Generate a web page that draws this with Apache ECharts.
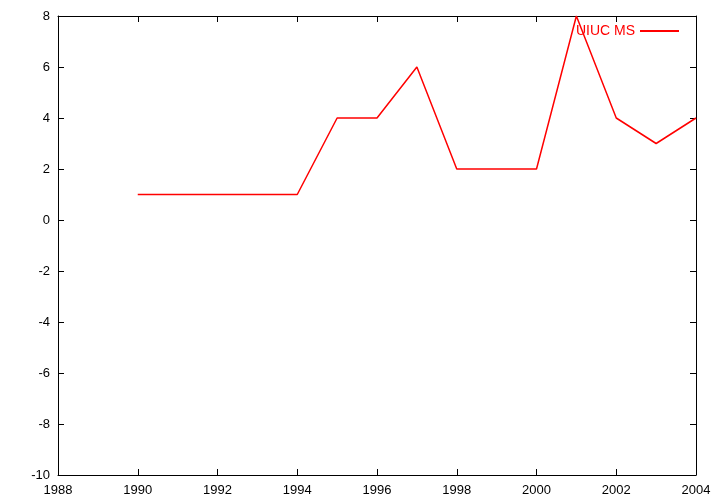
<!DOCTYPE html>
<html><head><meta charset="utf-8">
<script src="https://cdn.jsdelivr.net/npm/echarts@6/dist/echarts.min.js"></script>
<style>html,body{margin:0;padding:0;background:#fff}#c{width:720px;height:504px}</style>
</head><body><div id="c"></div>
<script>
const years = [1990,1991,1992,1993,1994,1995,1996,1997,1998,1999,2000,2001,2002,2003,2004];
const values = [1,1,1,1,1,4,4,6,2,2,2,8,4,3,4];
const seriesName = 'UIUC MS';
const xRange = [1988, 2004];
const yRange = [-10, 8];

const chart = echarts.init(document.getElementById('c'), null, {renderer:'canvas'});
const font = {fontFamily:'Liberation Sans, Arial, sans-serif', fontSize:13, color:'#000'};
const axisLine = {show:true, onZero:false, lineStyle:{color:'#000', width:1}};
const tick = {show:true, inside:true, length:6, lineStyle:{color:'#000'}};
chart.setOption({
  animation:false,
  backgroundColor:'#fff',
  grid:{left:58, right:24, top:16, bottom:29, containLabel:false},
  legend:{
    right:36, top:19, align:'right', itemWidth:39, itemHeight:2, itemGap:8,
    textStyle:{fontFamily:'Liberation Sans, Arial, sans-serif', fontSize:14, color:'#ff0000'},
    data:[{name:seriesName, icon:'rect'}]
  },
  xAxis:[
    {type:'value', min:xRange[0], max:xRange[1], interval:2, position:'bottom',
     axisLine:axisLine, axisTick:tick, splitLine:{show:false},
     axisLabel:Object.assign({margin:9, formatter:v=>String(v)}, font)},
    {type:'value', min:xRange[0], max:xRange[1], interval:2, position:'top',
     axisLine:axisLine, axisTick:tick, splitLine:{show:false}, axisLabel:{show:false}}
  ],
  yAxis:[
    {type:'value', min:yRange[0], max:yRange[1], interval:2, position:'left',
     axisLine:axisLine, axisTick:tick, splitLine:{show:false},
     axisLabel:Object.assign({margin:8}, font)},
    {type:'value', min:yRange[0], max:yRange[1], interval:2, position:'right',
     axisLine:axisLine, axisTick:tick, splitLine:{show:false}, axisLabel:{show:false}}
  ],
  series:[{
    name:seriesName, type:'line', xAxisIndex:0, yAxisIndex:0,
    data:years.map((y,i)=>[y, values[i]]),
    showSymbol:false, symbol:'none',
    lineStyle:{color:'#ff0000', width:1.5},
    itemStyle:{color:'#ff0000'}
  }]
});
</script></body></html>
